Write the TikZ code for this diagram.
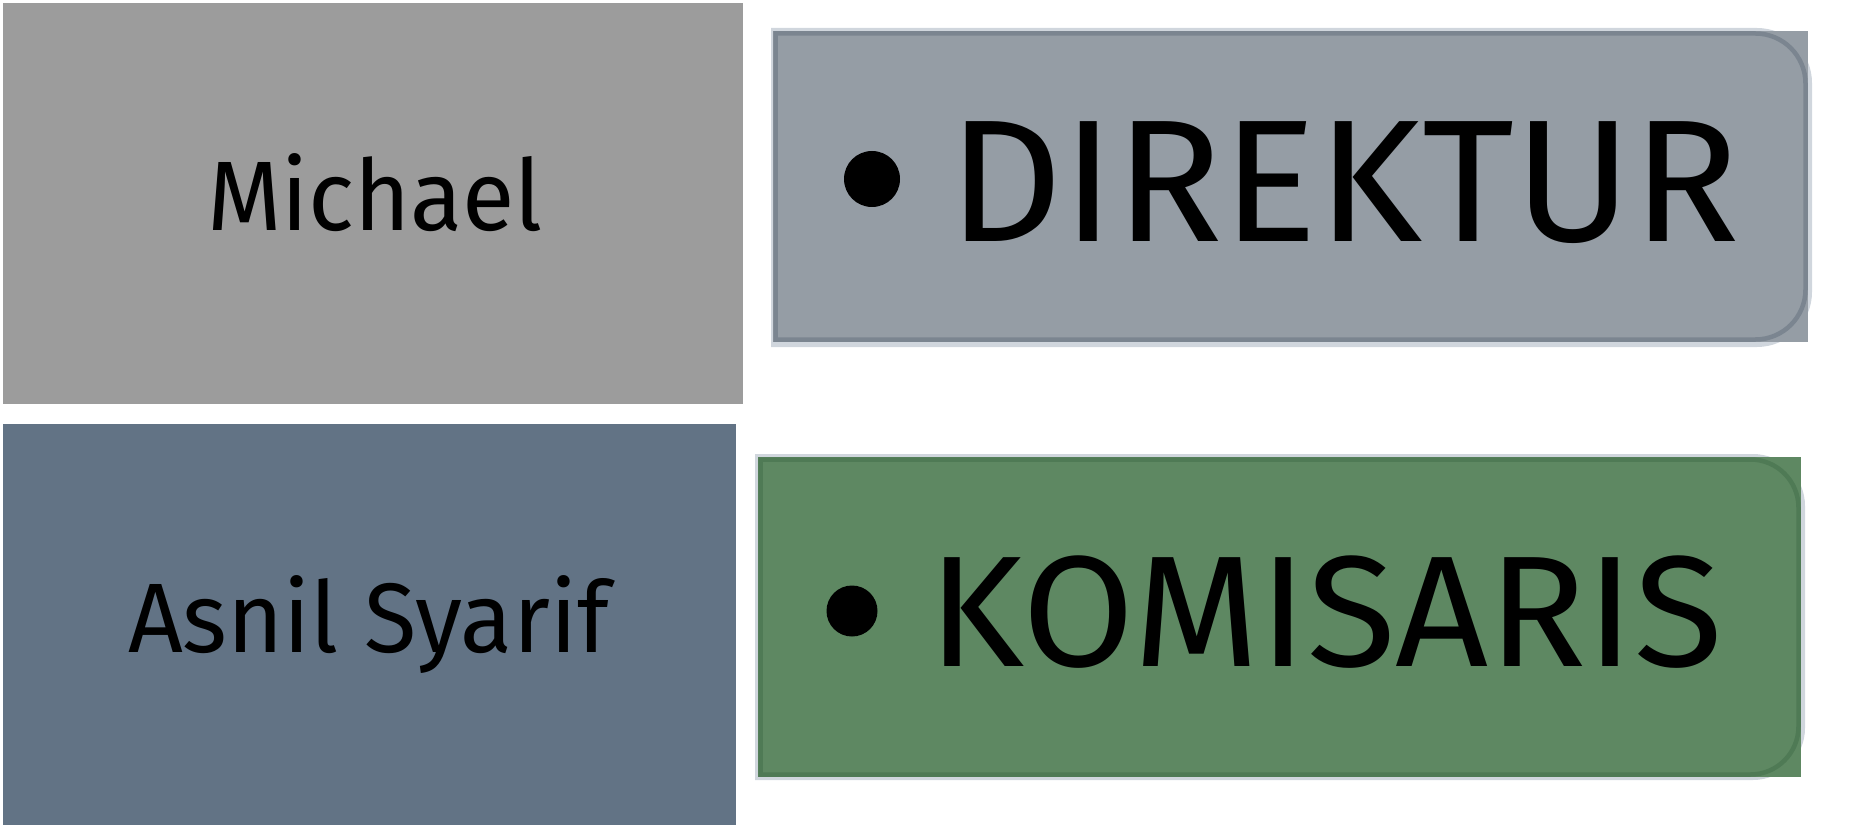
\documentclass[tikz,border=0pt]{standalone}
\usepackage{fontspec}
\setmainfont{Fira Sans}
\usepackage{graphicx}
\definecolor{grayfill}{HTML}{9C9C9C}
\definecolor{bluefill}{HTML}{627385}
\definecolor{dirfill}{HTML}{959DA5}
\definecolor{dirdark}{HTML}{7B8590}
\definecolor{lightrim}{HTML}{D0D6DD}
\definecolor{komfill}{HTML}{5E8862}
\definecolor{komdark}{HTML}{4F7A55}
\newcommand\fitx[2]{\sbox0{#2}\pgfmathsetmacro\myscale{#1/\wd0}\scalebox{\myscale}[1]{\usebox0}}
% right-rounded shape: options, x1, y1, x2, y2, r
\newcommand\rrshape[6]{\path[#1] (#2,#3) -- ({#4-#6},#3) .. controls ({#4-0.448*#6},#3) and (#4,{#3+0.448*#6}) .. (#4,{#3+#6}) -- (#4,{#5-#6}) .. controls (#4,{#5-0.448*#6}) and ({#4-0.448*#6},#5) .. ({#4-#6},#5) -- (#2,#5) -- cycle;}
\tikzset{
  plainbox/.style={draw=none, inner sep=0pt, outer sep=0pt, anchor=north west},
  label/.style={inner sep=0pt, outer sep=0pt, anchor=base, text=black},
  bulletdot/.style={circle, fill=black, inner sep=0pt, outer sep=0pt}
}
\begin{document}
\begin{tikzpicture}[x=1pt, y=-1pt]
\useasboundingbox (0,0) rectangle (1855,829);
% left boxes
\node[plainbox, fill=grayfill, minimum width=740pt, minimum height=401pt] (michaelbox) at (3,3) {};
\node[plainbox, fill=bluefill, minimum width=733pt, minimum height=401pt] (asnilbox) at (3,424) {};
% DIREKTUR box
\rrshape{fill=lightrim}{771}{28}{1812}{347}{55}
\node[plainbox, fill=dirfill, minimum width=1035pt, minimum height=311pt] (dirbox) at (773,31) {};
\rrshape{draw=dirdark, line width=4.5pt}{775.5}{33.5}{1805.5}{339.5}{50}
% KOMISARIS box
\rrshape{fill=lightrim}{755}{454}{1805}{780}{52}
\node[plainbox, fill=komfill, minimum width=1043pt, minimum height=320pt] (kombox) at (758,457) {};
\rrshape{draw=komdark, line width=4.5pt}{760.5}{459.5}{1798.5}{774.5}{48}
% texts
\node[label] (michael) at (375,231) {\fitx{336}{\fontsize{98.7pt}{100pt}\selectfont Michael}};
\node[label] (asnil) at (368.5,652) {\fitx{481}{\fontsize{98.7pt}{100pt}\selectfont Asnil Syarif}};
\node[bulletdot, minimum size=56pt] (dirbullet) at (872,179) {};
\node[label] (direktur) at (1344,241) {\fitx{792}{\fontsize{174pt}{176pt}\selectfont DIREKTUR}};
\node[bulletdot, minimum size=51pt] (kombullet) at (852,611) {};
\node[label] (komisaris) at (1326,666) {\fitx{795}{\fontsize{158pt}{160pt}\selectfont KOMISARIS}};
\end{tikzpicture}
\end{document}
